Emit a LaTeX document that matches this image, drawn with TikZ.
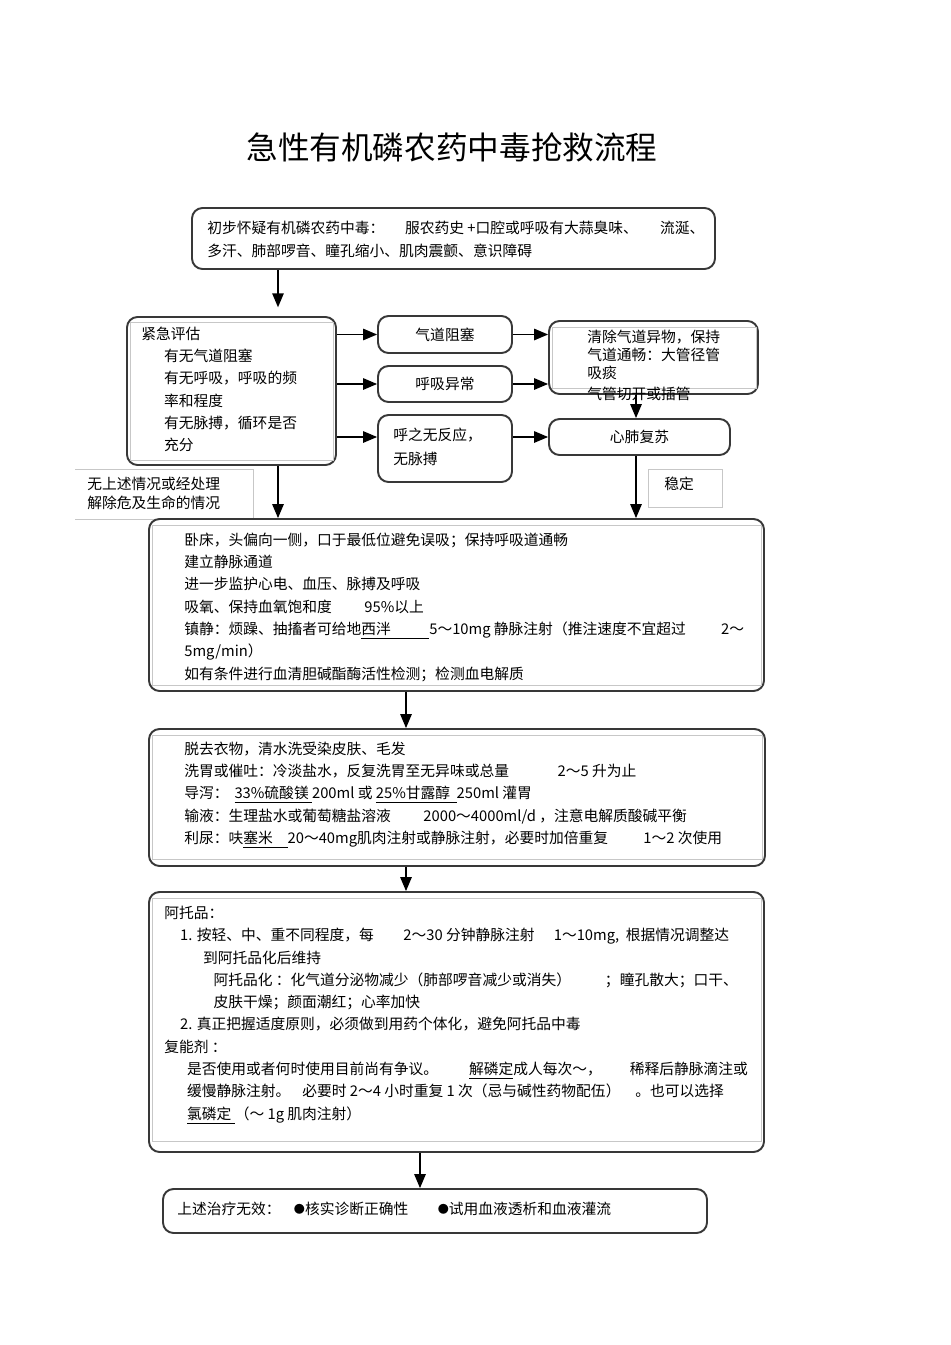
\documentclass[tikz,border=0pt]{standalone}
\usepackage{fontspec}
\setmainfont{Noto Sans CJK SC}
\usepackage{tikz}
\usetikzlibrary{arrows,fit}
\newcommand\boxfont{\fontsize{8.4}{12.7}\selectfont}
\newcommand\headfont{\fontsize{18}{20}\selectfont}
\newcommand\dotmark{\raisebox{0.9pt}{\fontsize{6.3}{6}\selectfont●}}
\tikzstyle{link} = [line width=0.8pt,->,>=triangle 45]
\tikzstyle{box} = [draw=black!78, line width=1.1pt, rounded corners=6pt, inner sep=0pt]
\tikzstyle{txt} = [anchor=west, inner sep=0pt, align=left, font=\boxfont]
\tikzstyle{mid} = [inner sep=0pt, font=\boxfont]
\tikzstyle{note} = [draw=black!22, line width=0.5pt]
\tikzstyle{seam} = [draw=black!22, line width=0.5pt]

\begin{document}
\begin{tikzpicture}[x=0.02cm,y=-0.02cm]
\useasboundingbox (0,0) rectangle (950,1345);
\node[inner sep=0pt, font=\headfont] (title) at (452,147) {急性有机磷农药中毒抢救流程};

% suspicion
\node[box, fit={(192,208) (715,269)}] (suspect) {};
\node[txt] (suspecttxt) at (207,239.5) {初步怀疑有机磷农药中毒：\hspace{1.4em}服农药史 +口腔或呼吸有大蒜臭味、\hspace{1.5em}流涎、\\多汗、肺部啰音、瞳孔缩小、肌肉震颤、意识障碍};

% emergency assessment
\node[box, fit={(127,317) (336,465)}] (assess) {};
\draw[seam] (130,322) rectangle (333,460);
\node[txt] (assesstxt) at (141,389.5) {紧急评估\\\hspace*{13pt}有无气道阻塞\\\hspace*{13pt}有无呼吸，呼吸的频\\\hspace*{13pt}率和程度\\\hspace*{13pt}有无脉搏，循环是否\\\hspace*{13pt}充分};

\node[box, fit={(378,316) (512,353)}] (airway) {};
\node[mid] (airwaytxt) at (airway) {气道阻塞};
\node[box, fit={(378,366) (512,402)}] (breath) {};
\node[mid] (breathtxt) at (breath) {呼吸异常};
\node[box, fit={(378,415) (512,482)}] (noresp) {};
\node[txt, font=\fontsize{8.4}{13.7}\selectfont] (noresptxt) at (393,447) {呼之无反应，\\无脉搏};

\node[box, fit={(549,321) (758,394)}] (clear) {};
\draw[seam] (552,327) rectangle (756,388);
\node[txt, font=\fontsize{8.4}{10.3}\selectfont] (cleartxt) at (587,365.5) {清除气道异物，保持\\气道通畅：大管径管\\吸痰\\[1.8pt]气管切开或插管};
\node[box, fit={(549,419) (730,455)}] (cpr) {};
\node[mid] (cprtxt) at (cpr) {心肺复苏};

\draw[note] (75,469) -- (253,469) -- (253,519) -- (75,519);
\node[txt, font=\fontsize{8.4}{10.8}\selectfont] (safe) at (87,493.5) {无上述情况或经处理\\解除危及生命的情况};
\draw[note] (648,469) rectangle (722,507);
\node[txt] (stable) at (664,484) {稳定};

% general care
\node[box, fit={(149,519) (764,691)}] (care) {};
\draw[seam] (152,525) rectangle (761,685);
\node[txt] (caretxt) at (184,607) {卧床，头偏向一侧，口于最低位避免误吸；保持呼吸道通畅\\建立静脉通道\\进一步监护心电、血压、脉搏及呼吸\\吸氧、保持血氧饱和度\hspace{2.2em}95\%以上\\镇静：烦躁、抽搐者可给地\underline{西泮\hspace{2.6em}}5～10mg 静脉注射（推注速度不宜超过\hspace{2.4em}2～\\5mg/min）\\如有条件进行血清胆碱酯酶活性检测；检测血电解质};

% decontamination
\node[box, fit={(149,729) (765,866)}] (wash) {};
\draw[seam] (152,735) rectangle (762,859);
\node[txt] (washtxt) at (184,795) {脱去衣物，清水洗受染皮肤、毛发\\洗胃或催吐：冷淡盐水，反复洗胃至无异味或总量\hspace{3.3em}2～5 升为止\\导泻：\hspace{0.4em}\underline{33\%硫酸镁\ }200ml 或 \underline{25\%甘露醇\ \ }250ml 灌胃\\输液：生理盐水或葡萄糖盐溶液\hspace{2.2em}2000～4000ml/d ，注意电解质酸碱平衡\\利尿：呋\underline{塞米\hspace{1em}}20～40mg肌肉注射或静脉注射，必要时加倍重复\hspace{2.4em}1～2 次使用};

% antidotes
\node[box, fit={(149,892) (764,1152)}] (drug) {};
\draw[seam] (152,898) rectangle (761,1141);
\node[txt] (drugtxt) at (164,1015) {阿托品：\\\hspace*{9pt}1. 按轻、中、重不同程度，每\hspace{2em}2～30 分钟静脉注射\hspace{1.3em}1～10mg,\ \ 根据情况调整达\\\hspace*{22pt}到阿托品化后维持\\\hspace*{28pt}阿托品化 ：化气道分泌物减少（肺部啰音减少或消失）\hspace{2.3em}；瞳孔散大；口干、\\\hspace*{28pt}皮肤干燥；颜面潮红；心率加快\\\hspace*{9pt}2. 真正把握适度原则，必须做到用药个体化，避免阿托品中毒\\复能剂 ：\\\hspace*{13pt}是否使用或者何时使用目前尚有争议。\hspace{2.1em}\underline{解磷定}成人每次～，\hspace{1.9em}稀释后静脉滴注或\\\hspace*{13pt}缓慢静脉注射。\hspace{0.8em}必要时 2～4 小时重复 1 次（忌与碱性药物配伍）\hspace{1em}。也可以选择\\\hspace*{13pt}\underline{氯磷定\ }（～ 1g 肌肉注射）};

% last resort
\node[box, fit={(163,1189) (707,1233)}] (fail) {};
\node[txt] (failtxt) at (177,1209) {上述治疗无效：\hspace{0.9em}\dotmark 核实诊断正确性\hspace{2em}\dotmark 试用血液透析和血液灌流};

% connectors
\coordinate (colA) at (278,0);
\coordinate (colB) at (636,0);
\coordinate (colC) at (406,0);
\coordinate (colD) at (420,0);
\draw[link, shorten >=5pt] (suspect.south -| colA) -- (assess.north -| colA);
\draw[link] (assess.east |- airway) -- (airway.west);
\draw[link] (assess.east |- breath) -- (breath.west);
\draw[link] (assess.east |- cpr) -- (noresp.west |- cpr);
\draw[link] (airway.east) -- (clear.west |- airway);
\draw[link] (breath.east) -- (clear.west |- breath);
\draw[link] (noresp.east |- cpr) -- (cpr.west);
\draw[link] (clear.south -| colB) -- (cpr.north -| colB);
\draw[link] (cpr.south -| colB) -- (care.north -| colB);
\draw[link] (assess.south -| colA) -- (care.north -| colA);
\draw[link] (care.south -| colC) -- (wash.north -| colC);
\draw[link] (wash.south -| colC) -- (drug.north -| colC);
\draw[link] (drug.south -| colD) -- (fail.north -| colD);
\end{tikzpicture}
\end{document}
